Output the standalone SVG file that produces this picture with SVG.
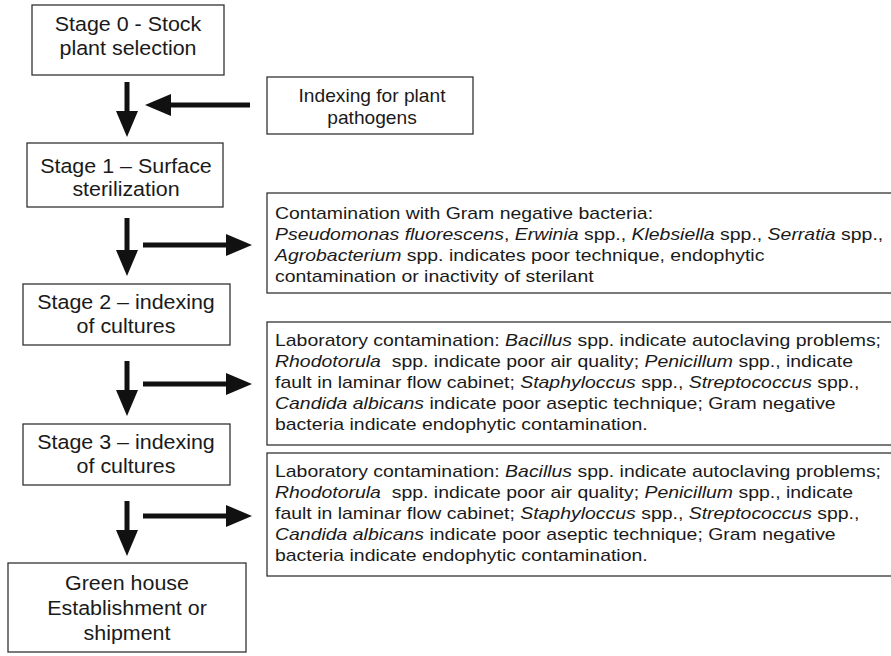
<svg xmlns="http://www.w3.org/2000/svg" width="891" height="656" viewBox="0 0 891 656">
<defs>
<style>
.box{fill:#fff;stroke:#333;stroke-width:1.3}
.st{font-family:"Liberation Sans",Arial,sans-serif;font-size:19.5px;fill:#1a1a1a;text-anchor:middle}
.nt{font-family:"Liberation Sans",Arial,sans-serif;font-size:16px;fill:#1a1a1a}
.i{font-style:italic}
.arr{stroke:#111;stroke-width:5;fill:none;marker-end:url(#ah)}
</style>
<marker id="ah" markerUnits="userSpaceOnUse" markerWidth="26" markerHeight="22" refX="0" refY="11" orient="auto" viewBox="0 0 26 22">
<path d="M0,0 L26,11 L0,22 z" fill="#111"/>
</marker>
</defs>
<rect width="891" height="656" fill="#fff"/>

<g id="stage0">
<rect class="box" x="32" y="5" width="192" height="70"/>
<g transform="translate(128,0) scale(1.1,1)">
<text class="st" x="0" y="31">Stage 0 - Stock</text>
<text class="st" x="0" y="55">plant selection</text>
</g>
</g>

<g id="indexing">
<rect class="box" x="267" y="77" width="206" height="57"/>
<g transform="translate(372,0) scale(1.065,1)">
<text class="st" x="0" y="102" style="font-size:18px">Indexing for plant</text>
<text class="st" x="0" y="124" style="font-size:18px">pathogens</text>
</g>
</g>

<g id="stage1">
<rect class="box" x="27" y="143" width="196" height="64"/>
<g transform="translate(126,0) scale(1.1,1)">
<text class="st" x="0" y="173">Stage 1 – Surface</text>
<text class="st" x="0" y="196">sterilization</text>
</g>
</g>

<g id="contam">
<rect class="box" x="267" y="193" width="640" height="100"/>
<g transform="translate(275,0) scale(1.215,1)">
<text class="nt" x="0" y="219">Contamination with Gram negative bacteria:</text>
<text class="nt" x="0" y="240"><tspan class="i">Pseudomonas fluorescens</tspan>, <tspan class="i">Erwinia</tspan> spp., <tspan class="i">Klebsiella</tspan> spp., <tspan class="i">Serratia</tspan> spp.,</text>
<text class="nt" x="0" y="261"><tspan class="i">Agrobacterium</tspan> spp. indicates poor technique, endophytic</text>
<text class="nt" x="0" y="282">contamination or inactivity of sterilant</text>
</g>
</g>

<g id="stage2">
<rect class="box" x="23" y="284" width="207" height="61"/>
<g transform="translate(126,0) scale(1.1,1)">
<text class="st" x="0" y="309">Stage 2 – indexing</text>
<text class="st" x="0" y="333">of cultures</text>
</g>
</g>

<g id="lab1">
<rect class="box" x="267" y="322" width="640" height="123"/>
<g transform="translate(275,0) scale(1.215,1)">
<text class="nt" x="0" y="346">Laboratory contamination: <tspan class="i">Bacillus</tspan> spp. indicate autoclaving problems;</text>
<text class="nt" x="0" y="367" xml:space="preserve"><tspan class="i">Rhodotorula</tspan>  spp. indicate poor air quality; <tspan class="i">Penicillum</tspan> spp., indicate</text>
<text class="nt" x="0" y="388">fault in laminar flow cabinet; <tspan class="i">Staphyloccus</tspan> spp., <tspan class="i">Streptococcus</tspan> spp.,</text>
<text class="nt" x="0" y="409"><tspan class="i">Candida albicans</tspan> indicate poor aseptic technique; Gram negative</text>
<text class="nt" x="0" y="430">bacteria indicate endophytic contamination.</text>
</g>
</g>

<g id="stage3">
<rect class="box" x="23" y="424" width="207" height="61"/>
<g transform="translate(126,0) scale(1.1,1)">
<text class="st" x="0" y="449">Stage 3 – indexing</text>
<text class="st" x="0" y="473">of cultures</text>
</g>
</g>

<g id="lab2">
<rect class="box" x="267" y="453" width="640" height="123"/>
<g transform="translate(275,0) scale(1.215,1)">
<text class="nt" x="0" y="477">Laboratory contamination: <tspan class="i">Bacillus</tspan> spp. indicate autoclaving problems;</text>
<text class="nt" x="0" y="498" xml:space="preserve"><tspan class="i">Rhodotorula</tspan>  spp. indicate poor air quality; <tspan class="i">Penicillum</tspan> spp., indicate</text>
<text class="nt" x="0" y="519">fault in laminar flow cabinet; <tspan class="i">Staphyloccus</tspan> spp., <tspan class="i">Streptococcus</tspan> spp.,</text>
<text class="nt" x="0" y="540"><tspan class="i">Candida albicans</tspan> indicate poor aseptic technique; Gram negative</text>
<text class="nt" x="0" y="561">bacteria indicate endophytic contamination.</text>
</g>
</g>

<g id="greenhouse">
<rect class="box" x="8" y="563" width="238" height="89"/>
<g transform="translate(127,0) scale(1.1,1)">
<text class="st" x="0" y="590">Green house</text>
<text class="st" x="0" y="615">Establishment or</text>
<text class="st" x="0" y="640">shipment</text>
</g>
</g>

<g id="connectors">
<line class="arr" x1="127" y1="82" x2="127" y2="111"/>
<line class="arr" x1="250" y1="105" x2="171" y2="105"/>
<line class="arr" x1="127" y1="218" x2="127" y2="250"/>
<line class="arr" x1="143" y1="245" x2="226" y2="245"/>
<line class="arr" x1="127" y1="361" x2="127" y2="390"/>
<line class="arr" x1="143" y1="384" x2="226" y2="384"/>
<line class="arr" x1="127" y1="501" x2="127" y2="530"/>
<line class="arr" x1="143" y1="516" x2="226" y2="516"/>
</g>
</svg>
